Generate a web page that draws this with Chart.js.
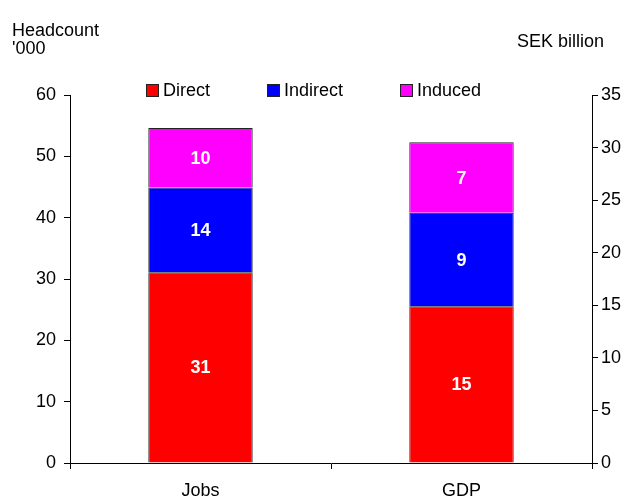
<!DOCTYPE html>
<html>
<head>
<meta charset="utf-8">
<script src="https://cdn.jsdelivr.net/npm/chart.js@4"></script>
<style>
    body { margin: 0; background: #fff; }
    .chart-container { position: relative; width: 630px; height: 500px; }
</style>
</head>
<body>
<div class="chart-container">
    <canvas id="impactChart"></canvas>
</div>
<script>
// Data
const categories = ['Jobs', 'GDP'];
const seriesNames = ['Direct', 'Indirect', 'Induced'];
const jobsValues = [31.1, 13.8, 9.7];   // headcount '000 (left axis)
const gdpValues = [14.9, 8.9, 6.7];     // SEK billion (right axis)
const seriesColors = ['#ff0000', '#0000ff', '#ff00ff'];
const leftTicks = [0, 10, 20, 30, 40, 50, 60];
const rightTicks = [0, 5, 10, 15, 20, 25, 30, 35];

Chart.defaults.font.family = 'Arial, "Liberation Sans", sans-serif';
Chart.defaults.font.size = 18;
Chart.defaults.color = '#000';

// Jobs go on the left axis, GDP on the right axis, all in one stack
const datasets = [];
seriesNames.forEach((name, i) => {
    datasets.push({
        label: name,
        data: [jobsValues[i], null],
        yAxisID: 'y',
        stack: 'total',
        backgroundColor: seriesColors[i],
        borderColor: '#222',
        borderWidth: 1
    });
    datasets.push({
        label: name,
        data: [null, gdpValues[i]],
        yAxisID: 'y2',
        stack: 'total',
        backgroundColor: seriesColors[i],
        borderColor: '#222',
        borderWidth: 1
    });
});

// White value labels in the middle of each segment
const valueLabels = {
    id: 'valueLabels',
    afterDatasetsDraw(chart) {
        const ctx = chart.ctx;
        ctx.save();
        ctx.fillStyle = '#fff';
        ctx.font = 'bold 18px Arial, "Liberation Sans", sans-serif';
        ctx.textAlign = 'center';
        ctx.textBaseline = 'middle';
        chart.data.datasets.forEach((ds, di) => {
            const meta = chart.getDatasetMeta(di);
            meta.data.forEach((bar, j) => {
                const v = ds.data[j];
                if (v === null || v === undefined) return;
                const p = bar.getProps(['x', 'y', 'base'], true);
                ctx.fillText(Math.round(v), p.x, (p.y + p.base) / 2 + 1);
            });
        });
        ctx.restore();
    }
};

// Legend row and axis unit captions
const captions = {
    id: 'captions',
    afterDraw(chart) {
        const ctx = chart.ctx;
        ctx.save();
        ctx.font = '18px Arial, "Liberation Sans", sans-serif';
        ctx.fillStyle = '#000';
        ctx.textBaseline = 'middle';
        ctx.textAlign = 'left';
        ctx.fillText('Headcount', 12, 31);
        ctx.fillText("'000", 12, 49);
        ctx.fillText('SEK billion', 517, 42);

        const boxX = [146, 267, 400];
        seriesNames.forEach((name, i) => {
            ctx.fillStyle = seriesColors[i];
            ctx.fillRect(boxX[i], 84, 13, 13);
            ctx.strokeStyle = '#222';
            ctx.lineWidth = 1;
            ctx.strokeRect(boxX[i] + 0.5, 84.5, 12, 12);
            ctx.fillStyle = '#000';
            ctx.fillText(name, boxX[i] + 17, 91);
        });
        ctx.restore();
    }
};

new Chart(document.getElementById('impactChart'), {
    type: 'bar',
    data: {
        labels: categories,
        datasets: datasets
    },
    options: {
        responsive: true,
        maintainAspectRatio: false,
        animation: false,
        layout: {
            padding: { top: 95, left: 0, right: 0, bottom: 0 }
        },
        categoryPercentage: 1,
        barPercentage: 0.4,
        plugins: {
            legend: { display: false },
            tooltip: { enabled: false }
        },
        scales: {
            x: {
                stacked: true,
                afterFit: (scale) => { scale.height = 37; },
                border: { color: '#000', width: 1 },
                grid: {
                    offset: true,
                    drawOnChartArea: false,
                    color: '#000',
                    tickLength: 6
                },
                ticks: { padding: 11 }
            },
            y: {
                position: 'left',
                stacked: true,
                min: leftTicks[0],
                max: leftTicks[leftTicks.length - 1],
                afterFit: (scale) => { scale.width = 70; },
                afterBuildTicks: (scale) => { scale.ticks = leftTicks.map(v => ({ value: v })); },
                border: { color: '#000', width: 1 },
                grid: {
                    drawOnChartArea: false,
                    color: '#000',
                    tickLength: 6
                },
                ticks: { padding: 8 }
            },
            y2: {
                position: 'right',
                stacked: true,
                min: rightTicks[0],
                max: rightTicks[rightTicks.length - 1],
                afterFit: (scale) => { scale.width = 38; },
                afterBuildTicks: (scale) => { scale.ticks = rightTicks.map(v => ({ value: v })); },
                border: { color: '#000', width: 1 },
                grid: {
                    drawOnChartArea: false,
                    color: '#000',
                    tickLength: 6
                },
                ticks: { padding: 3 }
            }
        }
    },
    plugins: [valueLabels, captions]
});
</script>
</body>
</html>
